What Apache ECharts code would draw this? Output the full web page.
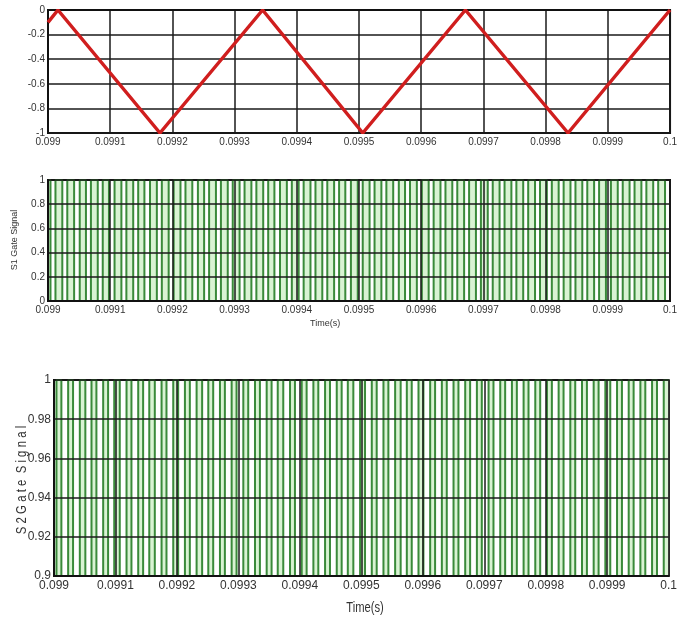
<!DOCTYPE html>
<html>
<head>
<meta charset="utf-8">
<script src="https://cdn.jsdelivr.net/npm/echarts@6/dist/echarts.min.js"></script>
<style>
  html, body { margin: 0; padding: 0; background: #fff; }
  #main { width: 680px; height: 625px; }
</style>
</head>
<body>
<div id="main"></div>
<script>
// time is kept as microseconds after T0 = 0.099 s
const T0 = 0.099

// triangular carrier, vertices
const carrierT = [0, 16, 180, 345, 506, 671, 836, 1000]
const carrierV = [-0.1, 0, -1, 0, -1, 0, -1, 0]

// switching edges of the gate signals (us after T0)
const gateEdges = [
  4, 12, 23, 31, 42, 51, 61, 69, 80, 88, 98,
  107, 118, 126, 137, 145, 155, 164, 175, 183, 194,
  202, 213, 221, 232, 241, 251, 259, 270, 278, 289, 297,
  308, 316, 327, 335, 346, 354, 364, 373, 384, 392,
  403, 411, 422, 430, 441, 449, 460, 468, 478, 487, 498,
  506, 517, 525, 536, 544, 555, 564, 574, 582, 593,
  601, 612, 620, 631, 639, 650, 658, 669, 677, 688, 696,
  707, 715, 726, 734, 745, 753, 764, 772, 783, 791,
  802, 810, 821, 829, 840, 848, 859, 867, 878, 886, 897,
  905, 916, 924, 935, 943, 954, 962, 973, 981, 992
]
// S2 is the complement of S1, so it shares the edges
const s1Start = 1
const s2Start = 0

function stepData(edges, start) {
  const out = [[0, start]]
  let v = start
  edges.forEach(t => {
    v = 1 - v
    out.push([t, v])
  })
  out.push([1000, v])
  return out
}

const TEXT = '#333'
const GRID_LINE = '#1a1a1a'
const GREEN = '#3a8a3a'
const GREEN_FILL = '#d9f3d3'
const SANS = 'Liberation Sans, Arial, sans-serif'

const timeLabel = v => String(+(T0 + v / 1e6).toFixed(4))

function xAxisFor(gridIndex, font, z) {
  return {
    gridIndex, type: 'value', min: 0, max: 1000, interval: 100, z,
    axisLine: { show: true, lineStyle: { color: '#111', width: 2 } },
    axisTick: { show: false },
    axisLabel: { color: TEXT, margin: 4, formatter: timeLabel, showMinLabel: true, showMaxLabel: true, ...font },
    splitLine: { show: true, lineStyle: { color: GRID_LINE, width: 1.5 } }
  }
}

function yAxisFor(gridIndex, min, max, interval, digits, font, z) {
  return {
    gridIndex, type: 'value', min, max, interval, z,
    axisLine: { show: true, lineStyle: { color: '#111', width: 2 } },
    axisTick: { show: false },
    axisLabel: { color: TEXT, margin: 3, formatter: v => String(+v.toFixed(digits)), ...font },
    splitLine: { show: true, lineStyle: { color: GRID_LINE, width: 1.5 } }
  }
}

const smallFont = { fontFamily: SANS, fontSize: 10 }
const bigFont = { fontFamily: SANS, fontSize: 12 }

const chart = echarts.init(document.getElementById('main'))
chart.setOption({
  animation: false,
  backgroundColor: '#fff',
  grid: [
    { left: 48, top: 10, width: 623, height: 123, show: true, borderColor: '#111', borderWidth: 2, backgroundColor: '#fff' },
    { left: 48, top: 180, width: 622, height: 121, show: true, borderColor: '#111', borderWidth: 2, backgroundColor: '#fff' },
    { left: 54, top: 380, width: 625, height: 196, show: true, borderColor: '#111', borderWidth: 2, backgroundColor: '#fff' }
  ],
  xAxis: [
    xAxisFor(0, smallFont, 0),
    xAxisFor(1, smallFont, 5),
    xAxisFor(2, bigFont, 5)
  ],
  yAxis: [
    yAxisFor(0, -1, 0, 0.2, 1, smallFont, 0),
    yAxisFor(1, 0, 1, 0.2, 1, smallFont, 5),
    yAxisFor(2, 0.9, 1, 0.02, 2, bigFont, 5)
  ],
  series: [
    {
      type: 'line', xAxisIndex: 0, yAxisIndex: 0, symbol: 'none',
      data: carrierT.map((t, i) => [t, carrierV[i]]),
      lineStyle: { color: '#d01e1e', width: 3.5 }, z: 3
    },
    {
      type: 'line', xAxisIndex: 1, yAxisIndex: 1, symbol: 'none', step: 'end',
      data: stepData(gateEdges, s1Start),
      lineStyle: { color: GREEN, width: 2 },
      areaStyle: { color: GREEN_FILL, opacity: 1 }
    },
    {
      type: 'line', xAxisIndex: 2, yAxisIndex: 2, symbol: 'none', step: 'end',
      data: stepData(gateEdges, s2Start),
      lineStyle: { color: GREEN, width: 2 },
      areaStyle: { color: GREEN_FILL, opacity: 1, origin: 'start' }
    }
  ],
  graphic: [
    { type: 'text', left: 310, top: 319, style: { text: 'Time(s)', fill: TEXT, font: '9px ' + SANS } },
    { type: 'text', x: 15, y: 240, rotation: Math.PI / 2, style: { text: 'S1 Gate Signal', fill: TEXT, font: '9px ' + SANS, align: 'center', verticalAlign: 'middle' } },
    { type: 'text', x: 365, y: 608, scaleX: 0.8, style: { text: 'Time(s)', fill: TEXT, font: '14px ' + SANS, align: 'center', verticalAlign: 'middle' } },
    { type: 'text', x: 22, y: 480, rotation: Math.PI / 2, scaleX: 0.76, style: { text: 'S 2 G a t e  S i g n a l', fill: TEXT, font: '15px ' + SANS, align: 'center', verticalAlign: 'middle' } }
  ]
})
</script>
</body>
</html>
